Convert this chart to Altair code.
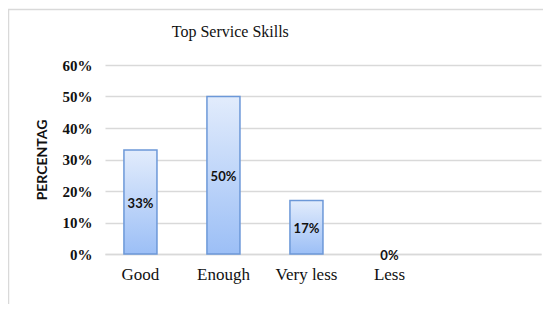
import altair as alt
import pandas as pd

categories = ["Good", "Enough", "Very less", "Less"]
values = [0.33, 0.50, 0.17, 0.0]
labels = ["33%", "50%", "17%", "0%"]
y_ticks = [0, 0.1, 0.2, 0.3, 0.4, 0.5, 0.6]

df = pd.DataFrame({"cat": categories, "val": values, "lab": labels})

x_scale = alt.Scale(paddingInner=0.602, paddingOuter=0.9275, align=0.123)
x_axis = alt.Axis(
    title=None, labelAngle=0, labelFont="Liberation Serif", labelFontSize=17,
    labelColor="#111", labelPadding=12, ticks=False, domain=True,
    domainColor="#d9d9d9", domainWidth=1.5, grid=False,
)
y_scale = alt.Scale(domain=[0, 0.6], nice=False)
y_axis = alt.Axis(
    title="PERCENTAG", values=y_ticks, format=".0%", labelFont="Liberation Serif",
    labelFontSize=15, labelFontWeight="bold", labelColor="#111", labelPadding=13,
    labelOverlap=False,
    ticks=False, domain=False, grid=True, gridColor="#d9d9d9", gridWidth=1.5,
    titleFont="Lato", titleFontSize=14, titleFontWeight="bold", titleColor="#111",
    titleAngle=270, titleX=-63, titleY=94.5, titleAlign="center", titleBaseline="middle",
)

frame = alt.Chart(pd.DataFrame({"a": [0]})).mark_rect(
    fill="white", fillOpacity=0, stroke="#d9d9d9", strokeWidth=1.5
).encode(
    x=alt.value(-96.5), x2=alt.value(700), y=alt.value(-55.5), y2=alt.value(500)
)

bars = alt.Chart(df).transform_filter("datum.val > 0").mark_bar(
    color=alt.Gradient(
        gradient="linear",
        stops=[alt.GradientStop(color="#e2ecfc", offset=0), alt.GradientStop(color="#9cbff6", offset=1)],
        x1=0, x2=0, y1=0, y2=1,
    ),
    stroke="#6c98d8", strokeWidth=1.5,
).encode(
    x=alt.X("cat:N", sort=categories, scale=x_scale, axis=x_axis),
    y=alt.Y("val:Q", scale=y_scale, axis=y_axis),
)

text = alt.Chart(df).transform_calculate(mid="datum.val / 2").mark_text(
    font="Lato", fontSize=13, fontWeight="bold", color="#111", baseline="middle", dy=2
).encode(
    x=alt.X("cat:N", sort=categories, scale=x_scale, axis=x_axis),
    y=alt.Y("mid:Q", scale=y_scale, axis=y_axis),
    text="lab:N",
)

chart = alt.layer(frame, bars, text).properties(
    width=436,
    height=189,
    title=alt.TitleParams(
        text="Top Service Skills", anchor="start", dx=164, offset=-44.25, baseline="alphabetic",
        frame="bounds", font="Liberation Serif", fontSize=16, fontWeight="normal", color="#111",
    ),
    autosize=alt.AutoSizeParams(type="none"),
    padding={"left": 97, "top": 57, "right": 2, "bottom": 50},
).configure_view(stroke=None)

chart.save("out.html", embed_options={"renderer": "svg", "actions": False})
